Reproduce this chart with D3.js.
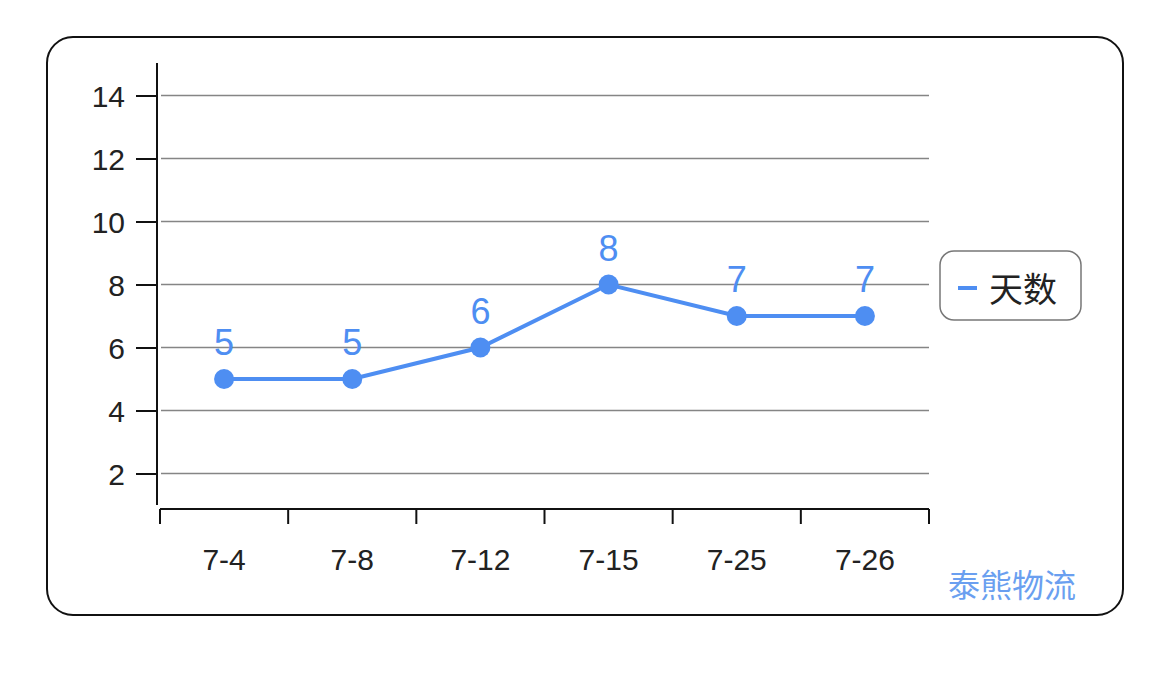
<!DOCTYPE html>
<html><head><meta charset="utf-8">
<script src="https://cdn.jsdelivr.net/npm/d3@7"></script>
<style>body{margin:0;background:#fff}svg{display:block}</style>
</head><body>
<script>
const categories = ["7-4","7-8","7-12","7-15","7-25","7-26"];
const values = [5,5,6,8,7,7];
const yTicks = [2,4,6,8,10,12,14];
const seriesName = "天数";
const watermark = "泰熊物流";

const W = 1170, H = 673;
const blue = "#4e8ef2";
const font = "Liberation Sans, Arial, Helvetica, sans-serif";
const svg = d3.select("body").append("svg").attr("width", W).attr("height", H);

svg.append("rect").attr("x",47).attr("y",37).attr("width",1076).attr("height",578)
  .attr("rx",26).attr("fill","#fff").attr("stroke","#111").attr("stroke-width",2);

const x = d3.scaleBand().domain(categories).range([160, 929]);
const y = d3.scaleLinear().domain([1, 15]).range([505, 64]);

// gridlines
svg.append("g").selectAll("line").data(yTicks).join("line")
  .attr("x1",161).attr("x2",929).attr("y1",d=>y(d)).attr("y2",d=>y(d))
  .attr("stroke","#858585").attr("stroke-width",1.6);

// y axis
const yAxis = svg.append("g").attr("transform","translate(157,0)")
  .call(d3.axisLeft(y).tickValues(yTicks).tickSize(21).tickPadding(11));
yAxis.select(".domain").remove();
svg.append("line").attr("x1",157).attr("x2",157).attr("y1",63).attr("y2",505)
  .attr("stroke","#111").attr("stroke-width",2);
yAxis.selectAll(".tick line").attr("stroke","#111").attr("stroke-width",2);
yAxis.selectAll("text").attr("font-family",font)
  .attr("font-size",30).attr("fill","#222").attr("dy","0.36em");

// x axis
const xg = svg.append("g").attr("transform","translate(0,509)");
xg.append("line").attr("x1",160).attr("x2",929).attr("stroke","#111").attr("stroke-width",2);
const edges = categories.map(c=>x(c)).concat([x(categories[categories.length-1])+x.bandwidth()]);
xg.selectAll("line.t").data(edges).join("line").attr("class","t")
  .attr("x1",d=>d).attr("x2",d=>d).attr("y1",0).attr("y2",15)
  .attr("stroke","#111").attr("stroke-width",2);
xg.selectAll("text").data(categories).join("text")
  .attr("x",d=>x(d)+x.bandwidth()/2).attr("y",61)
  .attr("text-anchor","middle")
  .attr("font-family",font)
  .attr("font-size",30).attr("fill","#222").text(d=>d);

// line
const cx = (d,i)=>x(categories[i])+x.bandwidth()/2;
svg.append("path").datum(values)
  .attr("d", d3.line().x(cx).y(d=>y(d)))
  .attr("fill","none").attr("stroke",blue).attr("stroke-width",4);
svg.append("g").selectAll("circle").data(values).join("circle")
  .attr("cx",cx).attr("cy",d=>y(d)).attr("r",10).attr("fill",blue);
svg.append("g").selectAll("text").data(values).join("text")
  .attr("x",cx).attr("y",d=>y(d)-24)
  .attr("text-anchor","middle")
  .attr("font-family",font)
  .attr("font-size",36).attr("fill",blue).text(d=>d);

// legend
svg.append("rect").attr("x",940).attr("y",251).attr("width",141).attr("height",69)
  .attr("rx",14).attr("fill","#fff").attr("stroke","#777").attr("stroke-width",1.5);
svg.append("line").attr("x1",958).attr("x2",977).attr("y1",288).attr("y2",288)
  .attr("stroke",blue).attr("stroke-width",4);
svg.append("text").attr("x",989).attr("y",302)
  .attr("font-family","Noto Sans CJK SC, sans-serif").attr("font-size",34)
  .attr("fill","#222").text(seriesName);

// watermark
svg.append("text").attr("x",1076).attr("y",597).attr("text-anchor","end")
  .attr("font-family","Noto Sans CJK SC, sans-serif").attr("font-size",32)
  .attr("fill","#6a9ff0").text(watermark);
</script>
</body></html>
